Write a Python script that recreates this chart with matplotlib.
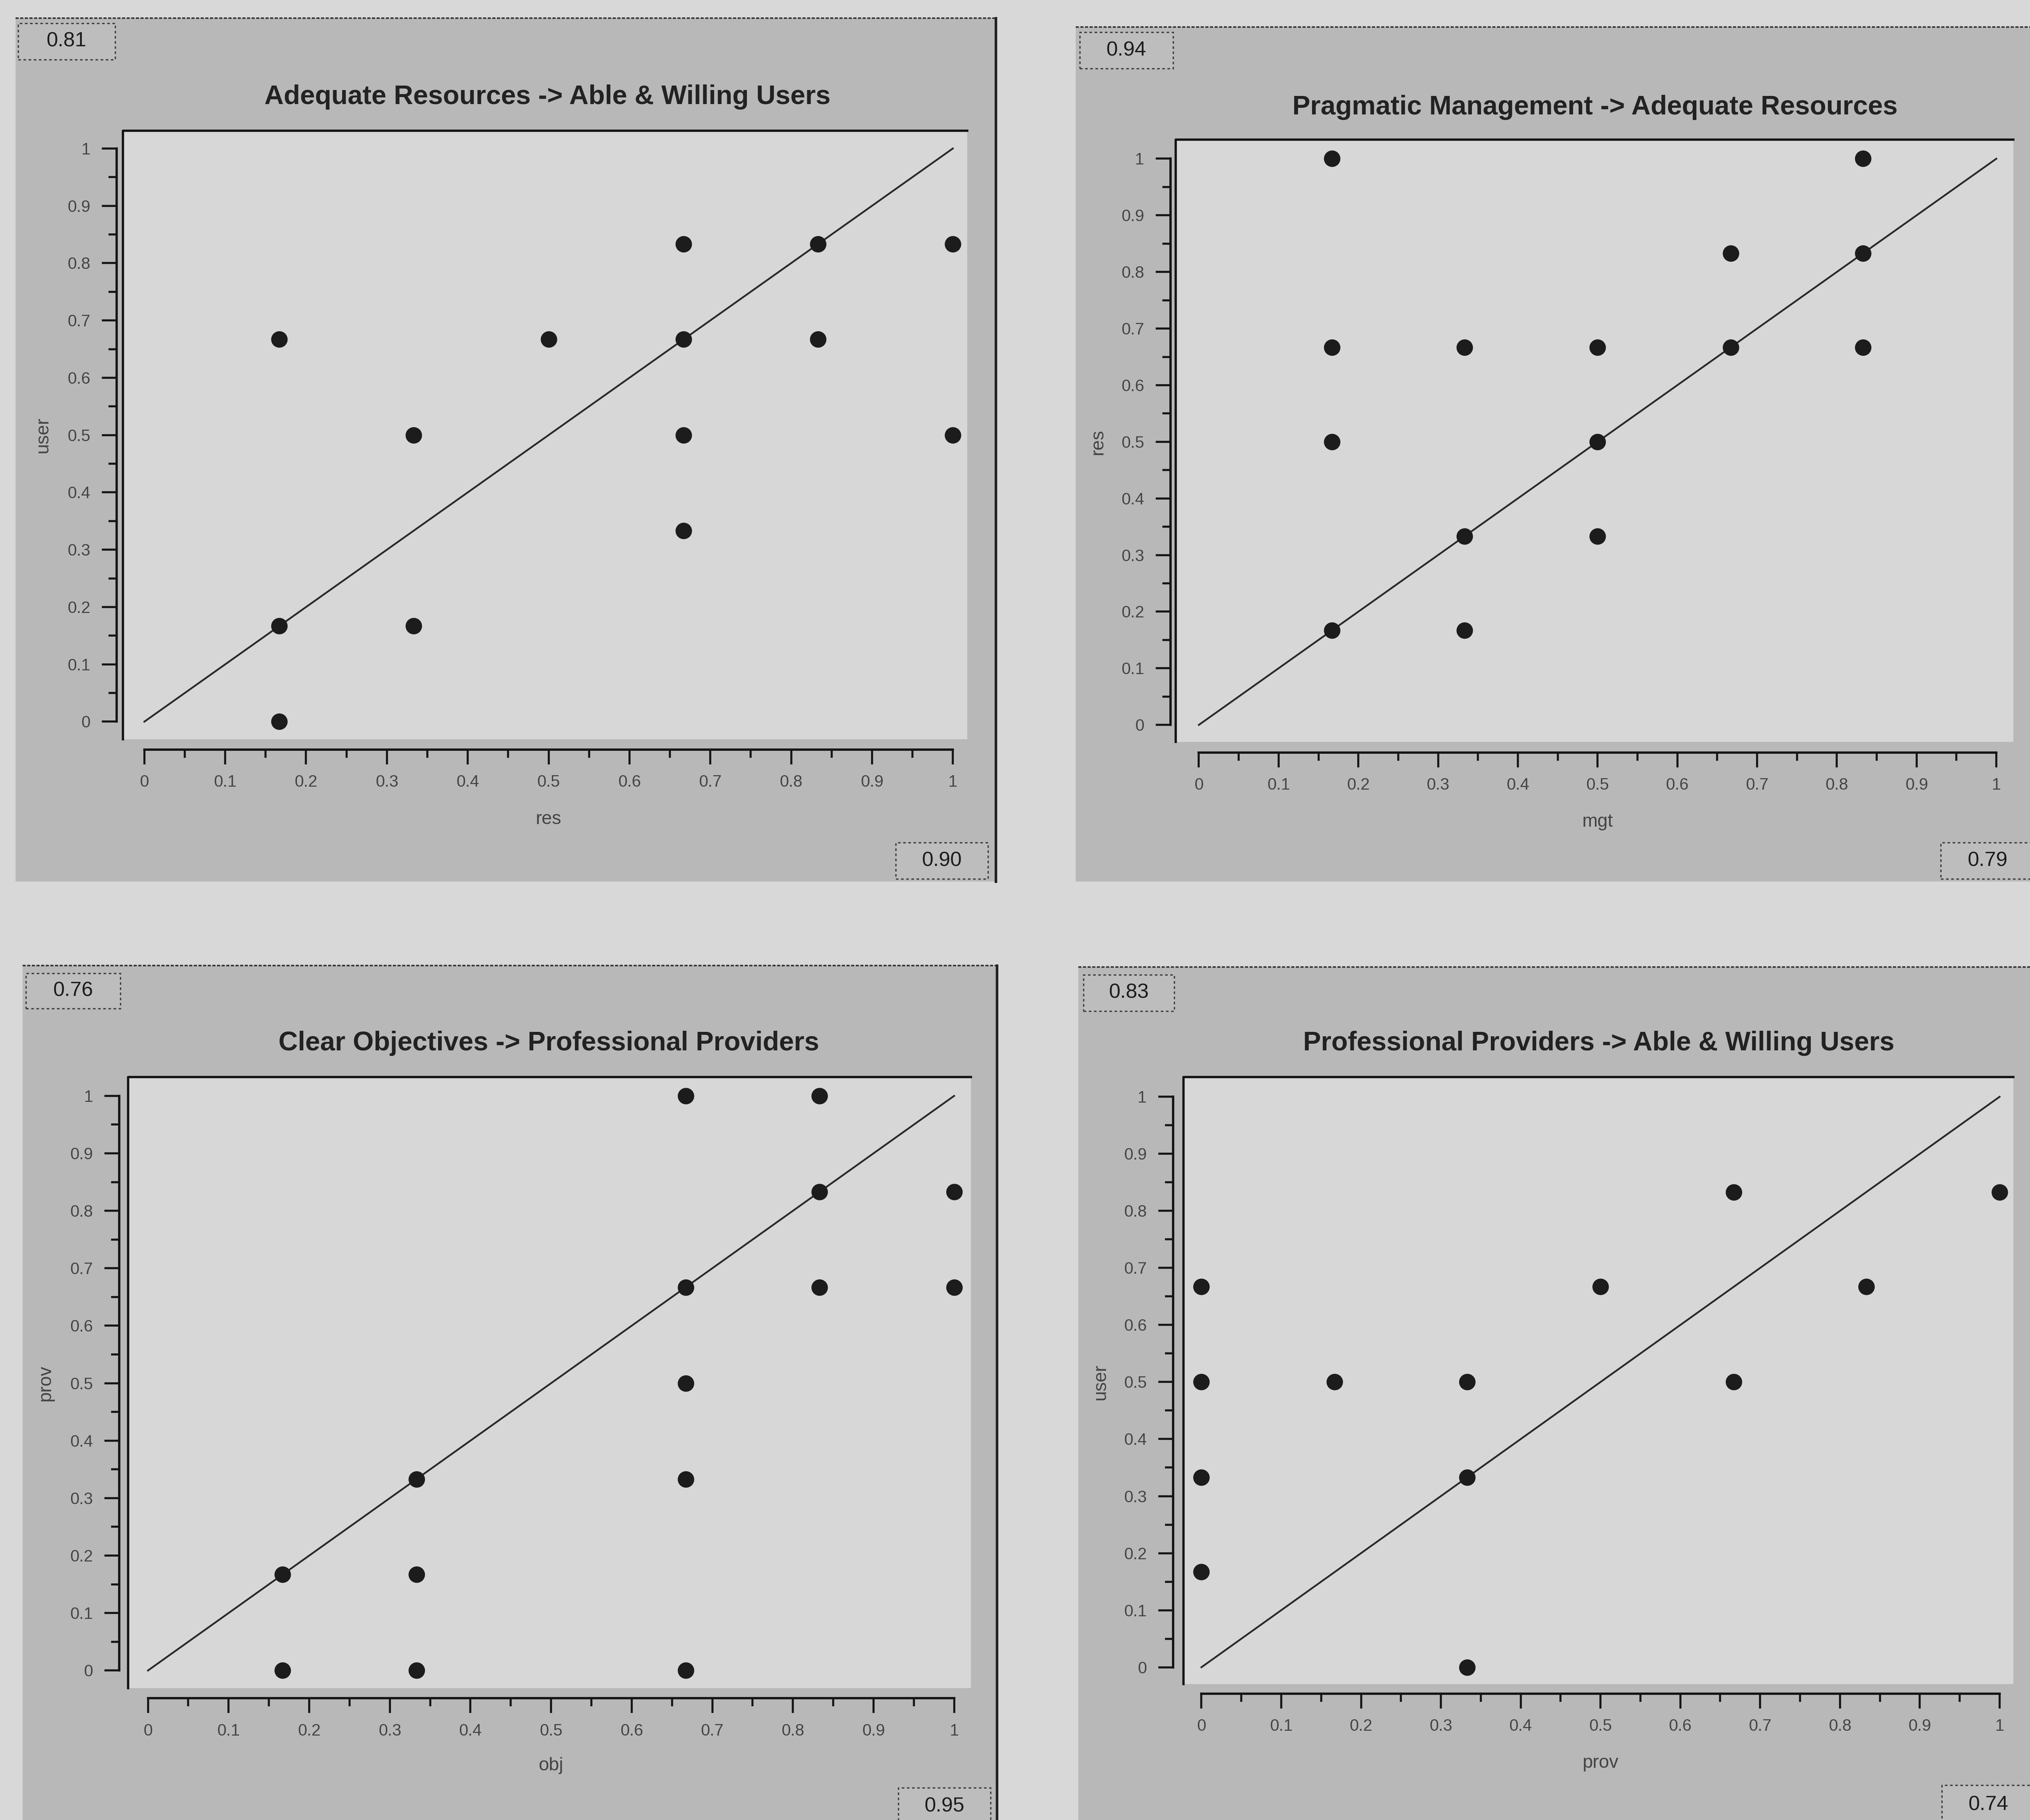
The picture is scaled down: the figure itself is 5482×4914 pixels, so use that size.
import matplotlib
matplotlib.use("Agg")
import matplotlib.pyplot as plt
from matplotlib.patches import Rectangle
from matplotlib.lines import Line2D
from matplotlib.ticker import FuncFormatter

# ---------------- data ----------------
titles = [
    "Adequate Resources -> Able & Willing Users",
    "Pragmatic Management -> Adequate Resources",
    "Clear Objectives -> Professional Providers",
    "Professional Providers -> Able & Willing Users",
]
xlabels = ["res", "mgt", "obj", "prov"]
ylabels = ["user", "res", "prov", "user"]
top_values = ["0.81", "0.94", "0.76", "0.83"]
bottom_values = ["0.90", "0.79", "0.95", "0.74"]

p1_x = [0.167, 0.167, 0.167, 0.333, 0.333, 0.5, 0.667, 0.667, 0.667, 0.667, 0.833, 0.833, 1.0, 1.0]
p1_y = [0.667, 0.167, 0.0, 0.5, 0.167, 0.667, 0.833, 0.667, 0.5, 0.333, 0.833, 0.667, 0.833, 0.5]

p2_x = [0.167, 0.167, 0.167, 0.167, 0.333, 0.333, 0.333, 0.5, 0.5, 0.5, 0.667, 0.667, 0.833, 0.833, 0.833]
p2_y = [1.0, 0.667, 0.5, 0.167, 0.667, 0.333, 0.167, 0.667, 0.5, 0.333, 0.833, 0.667, 1.0, 0.833, 0.667]

p3_x = [0.167, 0.167, 0.333, 0.333, 0.333, 0.667, 0.667, 0.667, 0.667, 0.667, 0.833, 0.833, 0.833, 1.0, 1.0]
p3_y = [0.167, 0.0, 0.333, 0.167, 0.0, 1.0, 0.667, 0.5, 0.333, 0.0, 1.0, 0.833, 0.667, 0.833, 0.667]

p4_x = [0.0, 0.0, 0.0, 0.0, 0.167, 0.333, 0.333, 0.333, 0.5, 0.667, 0.667, 0.833, 1.0]
p4_y = [0.667, 0.5, 0.333, 0.167, 0.5, 0.5, 0.333, 0.0, 0.667, 0.833, 0.5, 0.667, 0.833]

diag = [0.0, 1.0]
tick_values = [0.0, 0.1, 0.2, 0.3, 0.4, 0.5, 0.6, 0.7, 0.8, 0.9, 1.0]
minor_tick_values = [0.05, 0.15, 0.25, 0.35, 0.45, 0.55, 0.65, 0.75, 0.85, 0.95]

series_x = [p1_x, p2_x, p3_x, p4_x]
series_y = [p1_y, p2_y, p3_y, p4_y]

# ---------------- layout (reference pixel units, 1568 x 1406) ----------------
W, H = 1568.0, 1406.0
layouts = [
    dict(panel=(12, 14, 769, 681), white=(95, 101, 747, 571), x0=111.5, x1=736, y0=557.5, y1=114.7,
         yax=90, xax=579, title=(423, 75), xlab_y=633, ylab_x=33,
         box_top=(14, 18, 89, 46), box_bot=(692, 651, 763, 679), right_edge=True),
    dict(panel=(831, 21, 1580, 681), white=(908, 108, 1555, 573), x0=926, x1=1542, y0=560, y1=122.6,
         yax=904, xax=581.5, title=(1232, 83), xlab_y=635, ylab_x=848,
         box_top=(834, 25, 906, 53), box_bot=(1499, 651, 1572, 679), right_edge=False),
    dict(panel=(17.5, 746, 770, 1420), white=(99, 832, 750, 1304), x0=114.3, x1=737, y0=1290.5, y1=846.6,
         yax=92, xax=1312, title=(424, 806), xlab_y=1364, ylab_x=35,
         box_top=(20, 752, 93, 779), box_bot=(694, 1381, 765, 1410), right_edge=True),
    dict(panel=(833, 747, 1580, 1420), white=(914, 832, 1555, 1301), x0=928, x1=1544.5, y0=1288, y1=847.3,
         yax=906, xax=1308.5, title=(1235, 806), xlab_y=1362, ylab_x=850,
         box_top=(837, 753, 907, 781), box_bot=(1500, 1379, 1572, 1410), right_edge=False),
]

PAGE = "#d8d8d8"
PANEL = "#b8b8b8"
PLOT = "#d7d7d7"
INK = "#1c1c1c"
SANS = ["Liberation Sans", "DejaVu Sans"]

fig = plt.figure(figsize=(54.82, 49.14), dpi=100)
fig.patch.set_facecolor(PAGE)


def fx(x):
    return x / W


def fy(y):
    return 1.0 - y / H


def fig_rect(x0, y0, x1, y1, **kw):
    r = Rectangle((fx(x0), fy(y1)), fx(x1) - fx(x0), fy(y0) - fy(y1),
                  transform=fig.transFigure, **kw)
    fig.patches.append(r)
    return r


def fig_line(xs, ys, **kw):
    ln = Line2D([fx(v) for v in xs], [fy(v) for v in ys], transform=fig.transFigure, **kw)
    fig.lines.append(ln)


fmt = FuncFormatter(lambda v, p: "0" if abs(v) < 1e-9 else ("1" if abs(v - 1) < 1e-9 else f"{v:.1f}"))

for i, L in enumerate(layouts):
    # panel background
    px0, py0, px1, py1 = L["panel"]
    fig_rect(px0, py0, px1, py1, facecolor=PANEL, edgecolor="none", zorder=-10)
    fig_line([px0, px1], [py0, py0], color="#333333", lw=3, ls=(0, (2, 1)), zorder=-9)
    if L["right_edge"]:
        fig_line([px1, px1], [py0, py1], color="#222222", lw=5, zorder=-9)

    # corner value boxes
    for (bx0, by0, bx1, by1), txt in ((L["box_top"], top_values[i]), (L["box_bot"], bottom_values[i])):
        fig_rect(bx0, by0, bx1, by1, facecolor="#bdbdbd", edgecolor="#3a3a3a", lw=2.5,
                 ls=(0, (2, 2)), zorder=-8)
        fig.text(fx((bx0 + bx1) / 2), fy((by0 + by1) / 2), txt, ha="center", va="center",
                 fontsize=40, family=SANS, color=INK)

    # title
    fig.text(fx(L["title"][0]), fy(L["title"][1]), titles[i], ha="center", va="center",
             fontsize=52, fontweight="bold", family=SANS, color="#222222")

    # plot axes
    wx0, wy0, wx1, wy1 = L["white"]
    ax = fig.add_axes([fx(wx0), fy(wy1), fx(wx1) - fx(wx0), fy(wy0) - fy(wy1)])
    ax.set_facecolor(PLOT)

    def dx(px, L=L):
        return (px - L["x0"]) / (L["x1"] - L["x0"])

    def dy(py, L=L):
        return (L["y0"] - py) / (L["y0"] - L["y1"])

    ax.set_xlim(dx(wx0), dx(wx1))
    ax.set_ylim(dy(wy1), dy(wy0))

    # sunken border on left and top of the plot area
    ax.plot([0, 0, 1], [0, 1, 1], transform=ax.transAxes, color="#151515", lw=4.5,
            clip_on=False, zorder=5)

    # diagonal reference and points
    ax.plot(diag, diag, color="#2a2a2a", lw=3.5, zorder=3)
    ax.plot(series_x[i], series_y[i], "o", color=INK, markersize=32, markeredgewidth=0,
            clip_on=False, zorder=4)

    # detached axes
    for s in ("top", "right"):
        ax.spines[s].set_visible(False)
    ax.spines["left"].set_position(("data", dx(L["yax"])))
    ax.spines["bottom"].set_position(("data", dy(L["xax"])))
    ax.spines["left"].set_bounds(0, 1)
    ax.spines["bottom"].set_bounds(0, 1)
    for s in ("left", "bottom"):
        ax.spines[s].set_linewidth(4.5)
        ax.spines[s].set_color("#151515")

    ax.set_xticks(tick_values)
    ax.set_yticks(tick_values)
    ax.set_xticks(minor_tick_values, minor=True)
    ax.set_yticks(minor_tick_values, minor=True)
    ax.xaxis.set_major_formatter(fmt)
    ax.yaxis.set_major_formatter(fmt)
    ax.tick_params(which="major", length=29, width=4, color="#151515", direction="out")
    ax.tick_params(which="minor", length=16, width=4, color="#151515", direction="out")
    ax.tick_params(axis="x", which="major", pad=20, labelsize=32, labelcolor="#444444")
    ax.tick_params(axis="y", which="major", pad=22, labelsize=32, labelcolor="#444444")
    for lab in ax.get_xticklabels() + ax.get_yticklabels():
        lab.set_family(SANS)

    ax.set_xlabel(xlabels[i], fontsize=36, family=SANS, color="#444444")
    ax.set_ylabel(ylabels[i], fontsize=36, family=SANS, color="#444444")
    ax.xaxis.set_label_coords((dx((L["x0"] + L["x1"]) / 2) - dx(wx0)) / (dx(wx1) - dx(wx0)),
                              (wy1 - L["xlab_y"]) / (wy1 - wy0))
    ax.yaxis.set_label_coords((L["ylab_x"] - wx0) / (wx1 - wx0),
                              (wy1 - (L["y0"] + L["y1"]) / 2) / (wy1 - wy0))
    ax.xaxis.label.set_va("center")
    ax.yaxis.label.set_va("center")

fig.savefig("out.png", dpi=100, facecolor=fig.get_facecolor())
